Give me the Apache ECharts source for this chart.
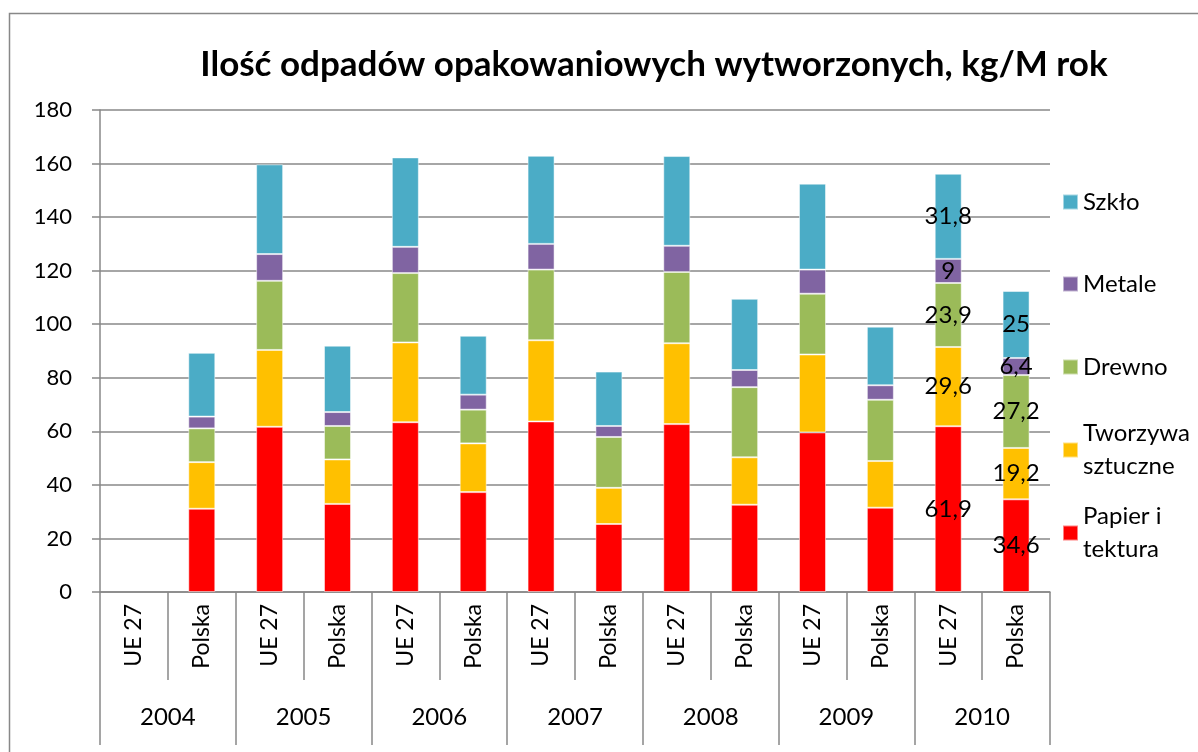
<!DOCTYPE html>
<html>
<head>
<meta charset="utf-8">
<script src="https://cdn.jsdelivr.net/npm/echarts@6/dist/echarts.min.js"></script>
<style>
  html, body { margin: 0; padding: 0; background: #fff; }
  #chart { width: 1198px; height: 752px; }
</style>
</head>
<body>
<div id="chart"></div>
<script>
// kategorie: kraj w ramach roku
const countries = ['UE 27', 'Polska', 'UE 27', 'Polska', 'UE 27', 'Polska', 'UE 27', 'Polska',
  'UE 27', 'Polska', 'UE 27', 'Polska', 'UE 27', 'Polska'];
const years = ['2004', '2005', '2006', '2007', '2008', '2009', '2010'];

// kg/M rok, od dołu stosu
const papier = [null, 31.1, 61.7, 32.9, 63.4, 37.3, 63.7, 25.4, 62.7, 32.6, 59.6, 31.5, 61.9, 34.6];
const tworzywa = [null, 17.4, 28.7, 16.6, 29.8, 18.2, 30.3, 13.5, 30.2, 17.7, 29.1, 17.4, 29.6, 19.2];
const drewno = [null, 12.6, 25.8, 12.5, 25.9, 12.6, 26.4, 19.0, 26.6, 26.2, 22.7, 22.9, 23.9, 27.2];
const metale = [null, 4.4, 10.0, 5.2, 9.8, 5.6, 9.6, 4.1, 9.8, 6.4, 9.0, 5.4, 9.0, 6.4];
const szklo = [null, 23.8, 33.5, 24.8, 33.4, 22.0, 32.9, 20.3, 33.5, 26.6, 32.1, 21.9, 31.8, 25.0];

const yTicks = [0, 20, 40, 60, 80, 100, 120, 140, 160, 180];

const font = 'Lato, "Open Sans", sans-serif';
const grey = '#888888';

const seriesList = [
  { name: 'Papier i\ntektura', data: papier, color: '#FF0000' },
  { name: 'Tworzywa\nsztuczne', data: tworzywa, color: '#FFC000' },
  { name: 'Drewno', data: drewno, color: '#9BBB59' },
  { name: 'Metale', data: metale, color: '#8064A2' },
  { name: 'Szkło', data: szklo, color: '#4BACC6' },
];

// legenda: kolejność od góry + środek ikony (px)
const legendItems = [
  { name: 'Szkło', y: 202 },
  { name: 'Metale', y: 284 },
  { name: 'Drewno', y: 367 },
  { name: 'Tworzywa\nsztuczne', y: 450, twoLines: true },
  { name: 'Papier i\ntektura', y: 533, twoLines: true },
];

const chart = echarts.init(document.getElementById('chart'));

chart.setOption({
  animation: false,
  textStyle: { fontFamily: font },
  title: {
    text: 'Ilość odpadów opakowaniowych wytworzonych, kg/M rok',
    left: 649,
    top: 42,
    textAlign: 'center',
    textStyle: { fontFamily: font, fontSize: 35, fontWeight: 'bold', color: '#000' },
  },
  graphic: [{
    type: 'rect',
    shape: { x: 9.5, y: 13.5, width: 1200, height: 760 },
    style: { fill: 'none', stroke: grey, lineWidth: 1.5 },
    silent: true,
  }],
  legend: legendItems.map((it) => ({
    data: [it.name],
    orient: 'vertical',
    left: 1062,
    top: it.twoLines ? it.y - 49.5 : it.y - 16.5,
    icon: 'rect',
    itemWidth: 15,
    itemHeight: 15,
    selectedMode: false,
    padding: 0,
    textStyle: {
      fontFamily: font,
      fontSize: 24,
      color: '#000',
      lineHeight: 33,
      padding: it.twoLines ? [33, 0, 0, 0] : 0,
    },
  })),
  grid: { left: 100, right: 148, top: 110, bottom: 160 },
  xAxis: [
    {
      type: 'category',
      data: countries,
      position: 'bottom',
      axisLine: { show: true, lineStyle: { color: grey, width: 1.5 } },
      axisTick: { show: true, interval: 0, length: 88, lineStyle: { color: grey, width: 1.5 } },
      axisLabel: { rotate: 90, interval: 0, margin: 12, fontFamily: font, fontSize: 23, color: '#000' },
    },
    {
      type: 'category',
      data: years,
      position: 'bottom',
      offset: 88,
      axisLine: { show: false },
      axisTick: { show: true, interval: 0, length: 65, lineStyle: { color: grey, width: 1.5 } },
      axisLabel: { interval: 0, margin: 25, fontFamily: font, fontSize: 24, color: '#000' },
    },
  ],
  yAxis: {
    type: 'value',
    min: yTicks[0],
    max: yTicks[yTicks.length - 1],
    interval: yTicks[1] - yTicks[0],
    axisLine: { show: true, lineStyle: { color: grey, width: 1.5 } },
    axisTick: { show: true, length: 8, lineStyle: { color: grey, width: 1.5 } },
    axisLabel: { margin: 28, fontFamily: font, fontSize: 22, color: '#000' },
    splitLine: { lineStyle: { color: grey, width: 1.5 } },
  },
  series: seriesList.map((s) => ({
    name: s.name,
    type: 'bar',
    stack: 'total',
    xAxisIndex: 0,
    barWidth: 27,
    data: s.data,
    itemStyle: { color: s.color, borderColor: 'rgba(255,255,255,0.5)', borderWidth: 1 },
    label: {
      show: true,
      position: 'inside',
      fontFamily: font,
      fontSize: 24,
      color: '#000',
      formatter: (p) => (p.dataIndex >= 12 ? String(p.value).replace('.', ',') : ''),
    },
  })),
});
</script>
</body>
</html>
